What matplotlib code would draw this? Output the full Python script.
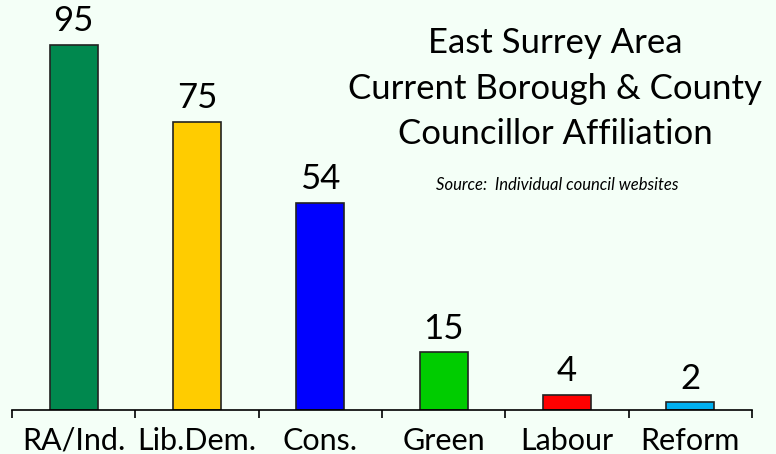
import matplotlib.pyplot as plt

parties = ['RA/Ind.', 'Lib.Dem.', 'Cons.', 'Green', 'Labour', 'Reform']
seats = [95, 75, 54, 15, 4, 2]
colours = ['#00884E', '#FFCC00', '#0000FF', '#00CC00', '#FF0000', '#00B0F0']

plt.rcParams['font.family'] = ['Lato', 'DejaVu Sans']
bg = '#F4FFF7'

fig = plt.figure(figsize=(7.76, 4.54), dpi=100, facecolor=bg)
ax = fig.add_axes([12 / 776, 44 / 454, 740 / 776, 410 / 454], facecolor=bg)

x = range(len(parties))
ax.bar(x, seats, width=0.39, color=colours, edgecolor='#222222', linewidth=1.2)
for i, v in zip(x, seats):
    ax.text(i, v + 2, str(v), ha='center', va='bottom', fontsize=25)

ax.set_xlim(-0.5, 5.5)
ax.set_ylim(0, 106.7)
ax.set_yticks([])
for s in ['top', 'right', 'left']:
    ax.spines[s].set_visible(False)
ax.spines['bottom'].set_linewidth(1.2)
ax.set_xticks([i - 0.5 for i in range(len(parties) + 1)])
ax.set_xticklabels([])
ax.tick_params(axis='x', length=6, width=1.2, direction='out')
ax.set_xticks(list(x), minor=True)
ax.set_xticklabels(parties, minor=True, fontsize=22)
ax.tick_params(axis='x', which='minor', length=0, pad=12)

fig.text(555 / 776, 1 - 43 / 454, 'East Surrey Area', ha='center', va='center', fontsize=25)
fig.text(555 / 776, 1 - 89 / 454, 'Current Borough & County', ha='center', va='center', fontsize=25)
fig.text(555 / 776, 1 - 134 / 454, 'Councillor Affiliation', ha='center', va='center', fontsize=25)
fig.text(557 / 776, 1 - 185 / 454, 'Source:  Individual council websites', ha='center', va='center',
         fontsize=12, style='italic')

fig.savefig('out.png', dpi=100, facecolor=bg)
